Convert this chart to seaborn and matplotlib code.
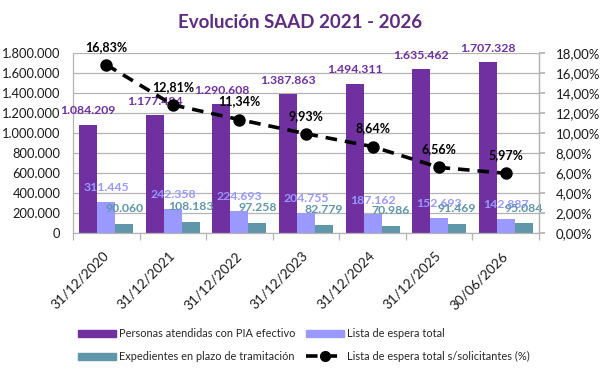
import numpy as np
import pandas as pd
import matplotlib
matplotlib.use("Agg")
import matplotlib.pyplot as plt
import seaborn as sns
from matplotlib.patches import Patch
from matplotlib.lines import Line2D
from matplotlib.ticker import FuncFormatter, FixedLocator

dates = ['31/12/2020', '31/12/2021', '31/12/2022', '31/12/2023',
         '31/12/2024', '31/12/2025', '30/06/2026']
pia = [1084209, 1177484, 1290608, 1387863, 1494311, 1635462, 1707328]
lista = [311445, 242358, 224693, 204755, 187162, 152693, 142887]
exped = [90060, 108183, 97258, 82779, 70986, 91469, 95084]
pct = [16.83, 12.81, 11.34, 9.93, 8.64, 6.56, 5.97]

s_pia = 'Personas atendidas con PIA efectivo'
s_lista = 'Lista de espera total'
s_exp = 'Expedientes en plazo de tramitación'
s_pct = 'Lista de espera total s/solicitantes (%)'

c_pia = '#7030A0'
c_lista = '#9999FF'
c_exp = '#5F96AA'
c_title = '#5E2D82'
grid_c = '#B4B4B4'

sns.set_theme(style='white')
plt.rcParams['font.family'] = ['Lato', 'DejaVu Sans']

df = pd.DataFrame({
    'fecha': dates * 3,
    'valor': pia + lista + exped,
    'serie': [s_pia] * 7 + [s_lista] * 7 + [s_exp] * 7,
})

fig = plt.figure(figsize=(6.03, 3.73), dpi=100)
ax = fig.add_axes([73 / 603, 1 - 233 / 373, (539 - 73) / 603, (233 - 53) / 373])

sns.barplot(data=df, x='fecha', y='valor', hue='serie', order=dates,
            hue_order=[s_pia, s_lista, s_exp],
            palette=[c_pia, c_lista, c_exp], width=0.81, gap=0,
            saturation=1, ax=ax, legend=False, edgecolor='none')

ax.set_ylim(0, 1800000)
ax.set_xlim(-0.5, len(dates) - 0.5)
ax.set_yticks(np.arange(0, 1800001, 200000))
ax.yaxis.set_major_formatter(FuncFormatter(lambda v, p: f"{int(v):,}".replace(',', '.')))
ax.grid(axis='y', color=grid_c, lw=0.9)
ax.set_axisbelow(True)
ax.set_xlabel('')
ax.set_ylabel('')
for sp in ['top']:
    ax.spines[sp].set_visible(False)
for sp in ['left', 'right', 'bottom']:
    ax.spines[sp].set_color(grid_c)
    ax.spines[sp].set_linewidth(0.9)
ax.tick_params(axis='y', length=0, pad=9, labelsize=9.3, labelcolor='#1a1a1a')
ax.tick_params(axis='x', which='major', length=0, pad=15, labelsize=9.8, labelcolor='#1a1a1a')
ax.xaxis.set_minor_locator(FixedLocator(np.arange(-0.5, len(dates), 1.0)))
ax.tick_params(axis='x', which='minor', length=5, color=grid_c, width=0.9, bottom=True)
plt.setp(ax.get_xticklabels(), rotation=45, ha='right', va='center', rotation_mode='anchor')

# bar value labels
label_cols = {s_pia: c_pia, s_lista: c_lista, s_exp: c_exp}
offs = {s_pia: 10, s_lista: 10, s_exp: 11}
for cont, s in zip(ax.containers, [s_pia, s_lista, s_exp]):
    for bar in cont:
        h = bar.get_height()
        ax.annotate(f"{int(round(h)):,}".replace(',', '.'),
                    (bar.get_x() + bar.get_width() / 2, h),
                    xytext=(0, offs[s]), textcoords='offset points',
                    ha='center', va='center', fontsize=8.8, fontweight='bold',
                    color=label_cols[s])

ax2 = ax.twinx()
sns.pointplot(x=dates, y=pct, ax=ax2, color='black', linestyles='--',
              markers='o', markersize=7, linewidth=2.6, errorbar=None)
for ln in ax2.lines:
    ln.set_dashes([3.2, 2.2])
ax2.set_ylim(0, 18)
ax2.set_xlim(-0.5, len(dates) - 0.5)
ax2.set_yticks(np.arange(0, 18.01, 2))
ax2.yaxis.set_major_formatter(FuncFormatter(lambda v, p: f"{v:.2f}".replace('.', ',') + '%'))
ax2.tick_params(axis='y', length=4, color=grid_c, pad=8, labelsize=9.5, labelcolor='#1a1a1a')
for sp in ['top', 'left', 'bottom']:
    ax2.spines[sp].set_visible(False)
ax2.spines['right'].set_color(grid_c)
ax2.spines['right'].set_linewidth(0.9)
ax2.set_xlabel('')
ax2.set_ylabel('')
ax2.grid(False)

for i, v in enumerate(pct):
    ax2.annotate(f"{v:.2f}".replace('.', ',') + '%', (i, v),
                 xytext=(0, 13), textcoords='offset points',
                 ha='center', va='center', fontsize=9, fontweight='bold',
                 color='black')

fig.text(300 / 603, 1 - 22 / 373, 'Evolución SAAD 2021 - 2026', ha='center',
         va='center', fontsize=13.5, fontweight='bold', color=c_title)

handles = [Patch(color=c_pia), Patch(color=c_exp), Patch(color=c_lista),
           Line2D([], [], color='black', ls='--', lw=2.6, marker='o', markersize=7,
                  dashes=[3.2, 2.2])]
labels = [s_pia, s_exp, s_lista, s_pct]
fig.legend(handles, labels, ncol=2, loc='center', bbox_to_anchor=(304 / 603, 1 - 345 / 373),
           frameon=False, fontsize=7.9, handlelength=3.5, handleheight=0.6,
           columnspacing=0.9, labelspacing=1.1, handletextpad=0.3)

fig.savefig('out.png', dpi=100)
